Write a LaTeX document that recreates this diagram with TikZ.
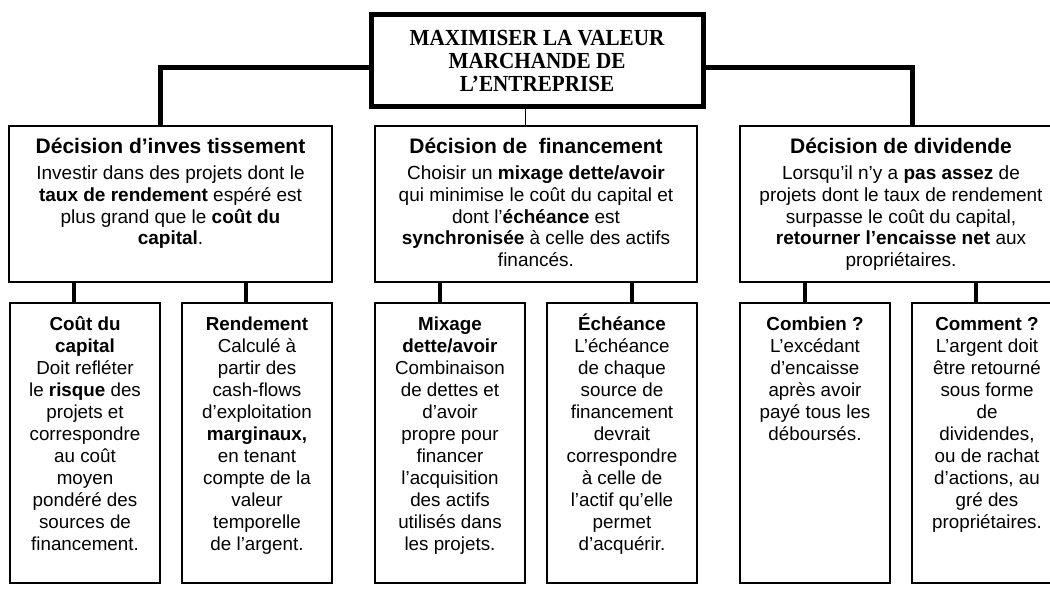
\documentclass[tikz,border=0pt]{standalone}
\usepackage{fontspec}
\setmainfont{Liberation Sans}
\newfontfamily\titlefont[FakeStretch=0.92]{Liberation Serif}
\begin{document}
\begin{tikzpicture}[x=1pt,y=-1pt,
  box/.style={draw,line width=1.3pt,inner sep=0pt,outer sep=0pt,anchor=north west},
  topbox/.style={draw,line width=5pt,inner sep=0pt,outer sep=0pt,anchor=north west,minimum width=332pt,minimum height=92pt},
  lvtwo/.style={box,minimum width=323pt,minimum height=156pt},
  lvthree/.style={box,minimum width=150pt,minimum height=280pt},
  txttwo/.style={align=center,inner sep=0pt,anchor=north,font=\fontsize{19}{21.7}\selectfont},
  txtthree/.style={align=center,inner sep=0pt,anchor=north,font=\fontsize{18.8}{22}\selectfont},
  thickconn/.style={line width=5pt},
  legconn/.style={line width=4pt},
  thinconn/.style={line width=1pt}]
\useasboundingbox (0,0) rectangle (1050,592);
\fill[white] (0,0) rectangle (1050,592);
\begin{scope}
\clip (0,0) rectangle (1050,592);
% top box
\node[topbox] (top) at (371,14) {};
\node[align=center,inner sep=0pt,font=\titlefont\bfseries\fontsize{23}{23}\selectfont] (ttl) at ([yshift=-1pt]top.center)
  {MAXIMISER LA VALEUR\\MARCHANDE DE\\L’ENTREPRISE};
% level 2
\node[lvtwo] (l2a) at (9,126) {};
\node[lvtwo,minimum width=322pt] (l2b) at (375,126) {};
\node[lvtwo,minimum width=322pt] (l2c) at (740,126) {};
\node[txttwo] (t2a) at ([yshift=-9.5pt]l2a.north)
 {{\fontsize{21}{25}\selectfont\bfseries\rule{0pt}{18pt}Décision d’inves tissement}\\[4.3pt]
  Investir dans des projets dont le\\
  \textbf{taux de rendement} espéré est\\
  plus grand que le \textbf{coût du}\\
  \textbf{capital}.};
\node[txttwo] (t2b) at ([yshift=-9.5pt]l2b.north)
 {{\fontsize{21}{25}\selectfont\bfseries\rule{0pt}{18pt}Décision de~ financement}\\[4.3pt]
  Choisir un \textbf{mixage dette/avoir}\\
  qui minimise le coût du capital et\\
  dont l’\textbf{échéance} est\\
  \textbf{synchronisée} à celle des actifs\\
  financés.};
\node[txttwo] (t2c) at ([yshift=-9.5pt]l2c.north)
 {{\fontsize{21}{25}\selectfont\bfseries\rule{0pt}{18pt}Décision de dividende}\\[4.3pt]
  Lorsqu’il n’y a \textbf{pas assez} de\\
  projets dont le taux de rendement\\
  surpasse le coût du capital,\\
  \textbf{retourner l’encaisse net} aux\\
  propriétaires.};
% level 3
\node[lvthree] (l3a) at (10,303) {};
\node[lvthree] (l3b) at (182,303) {};
\node[lvthree] (l3c) at (375,303) {};
\node[lvthree] (l3d) at (547,303) {};
\node[lvthree] (l3e) at (740,303) {};
\node[lvthree] (l3f) at (912,303) {};
\node[txtthree] (t3a) at ([yshift=-9pt]l3a.north)
 {\rule{0pt}{18pt}\textbf{Coût du}\\\textbf{capital}\\Doit refléter\\le \textbf{risque} des\\projets et\\correspondre\\au coût\\moyen\\pondéré des\\sources de\\financement.};
\node[txtthree] (t3b) at ([yshift=-9pt]l3b.north)
 {\rule{0pt}{18pt}\textbf{Rendement}\\Calculé à\\partir des\\cash-flows\\d’exploitation\\\textbf{marginaux,}\\en tenant\\compte de la\\valeur\\temporelle\\de l’argent.};
\node[txtthree] (t3c) at ([yshift=-9pt]l3c.north)
 {\rule{0pt}{18pt}\textbf{Mixage}\\\textbf{dette/avoir}\\Combinaison\\de dettes et\\d’avoir\\propre pour\\financer\\l’acquisition\\des actifs\\utilisés dans\\les projets.};
\node[txtthree] (t3d) at ([yshift=-9pt]l3d.north)
 {\rule{0pt}{18pt}\textbf{Échéance}\\L’échéance\\de chaque\\source de\\financement\\devrait\\correspondre\\à celle de\\l’actif qu’elle\\permet\\d’acquérir.};
\node[txtthree] (t3e) at ([yshift=-9pt]l3e.north)
 {\rule{0pt}{18pt}\textbf{Combien ?}\\L’excédant\\d’encaisse\\après avoir\\payé tous les\\déboursés.};
\node[txtthree] (t3f) at ([yshift=-9pt]l3f.north)
 {\rule{0pt}{18pt}\textbf{Comment ?}\\L’argent doit\\être retourné\\sous forme\\de\\dividendes,\\ou de rachat\\d’actions, au\\gré des\\propriétaires.};
% connectors top -> level 2
\draw[thickconn] ([yshift=-7pt]top.west) -| ([xshift=-10.5pt]l2a.north);
\draw[thickconn] ([yshift=-7pt]top.east) -| ([xshift=11pt]l2c.north);
\coordinate (km) at ([xshift=-11pt]l2b.north);
\draw[thinconn] (km |- top.south) -- (km);
% connectors level 2 -> level 3
\coordinate (ka) at ([xshift=-11pt]l3a.north);
\coordinate (kb) at ([xshift=-11pt]l3b.north);
\coordinate (kc) at ([xshift=-10pt]l3c.north);
\coordinate (kd) at ([xshift=10pt]l3d.north);
\coordinate (ke) at ([xshift=-10pt]l3e.north);
\coordinate (kf) at ([xshift=-11pt]l3f.north);
\draw[legconn] (ka) -- (ka |- l2a.south);
\draw[legconn] (kb) -- (kb |- l2a.south);
\draw[legconn] (kc) -- (kc |- l2b.south);
\draw[legconn] (kd) -- (kd |- l2b.south);
\draw[legconn] (ke) -- (ke |- l2c.south);
\draw[legconn] (kf) -- (kf |- l2c.south);
\end{scope}
\end{tikzpicture}
\end{document}
